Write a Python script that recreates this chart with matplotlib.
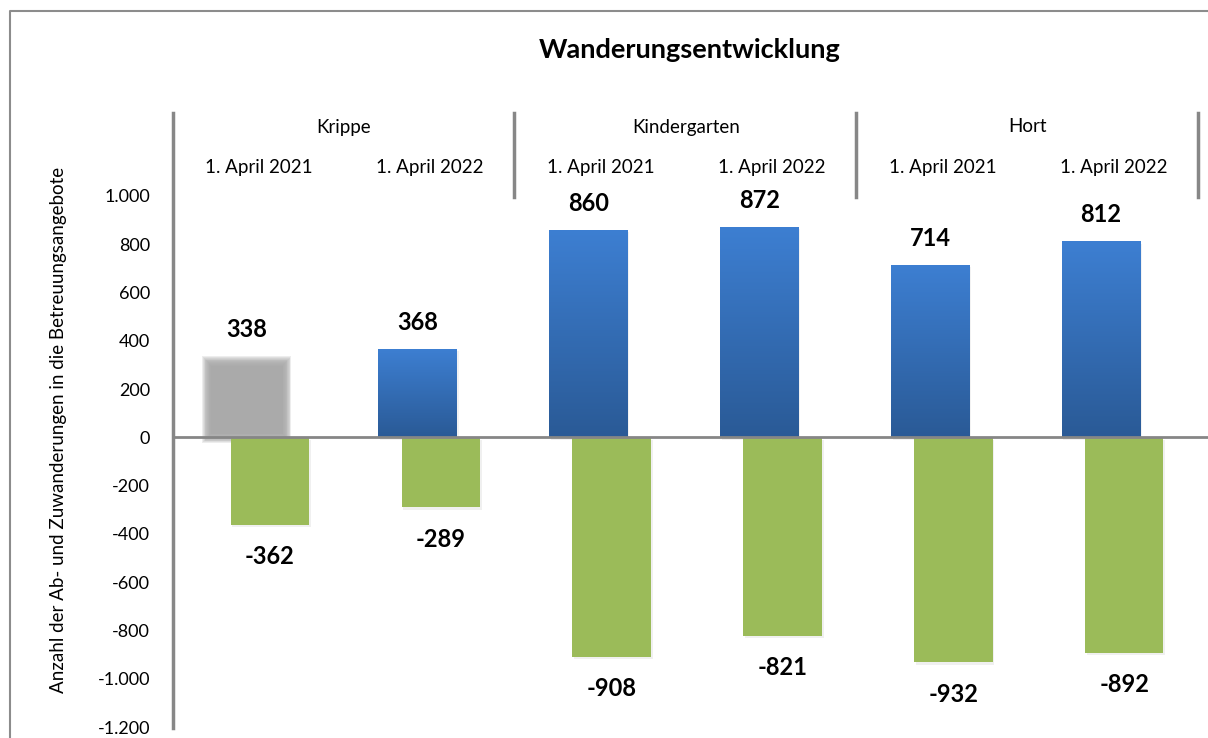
import matplotlib.pyplot as plt
import numpy as np
from matplotlib.patches import Rectangle
from matplotlib.lines import Line2D
from matplotlib.colors import LinearSegmentedColormap

plt.rcParams['font.family'] = ['Lato', 'DejaVu Sans']

# data
groups = ['Krippe', 'Kindergarten', 'Hort']
dates = ['1. April 2021', '1. April 2022'] * 3
zuzug = [338, 368, 860, 872, 714, 812]
wegzug = [-362, -289, -908, -821, -932, -892]
yticks = [1000, 800, 600, 400, 200, 0, -200, -400, -600, -800, -1000, -1200]

def de_fmt(v):
    # german thousands separator
    s = '{:,}'.format(v).replace(',', '.')
    return s

W, H = 1208, 738
fig = plt.figure(figsize=(W / 100, H / 100), dpi=100)
ax = fig.add_axes([173 / W, 11 / H, (1198 - 173) / W, (727 - 196) / H])

ax.set_xlim(-0.5, 5.5)
ax.set_ylim(-1200, 1000)

bw = 0.46
off = 0.068
blue_cmap = LinearSegmentedColormap.from_list('bl', ['#2a5a96', '#3d7fd2'])
grad = np.linspace(0, 1, 256).reshape(-1, 1)

x = np.arange(len(zuzug))
for i in x:
    # positive bars (blue gradient, first one grey and blurred)
    xl = i - off - bw / 2
    v = zuzug[i]
    if i == 0:
        # soft edges: stack of shrinking translucent rectangles
        for k in np.linspace(0.03, -0.02, 12):
            ky = k * 800
            ax.add_patch(Rectangle((xl - k, -ky), bw + 2 * k, v - 25 + 2 * ky,
                                   color='#a6a6a6', alpha=0.2, lw=0, zorder=2))
    else:
        ax.add_patch(Rectangle((xl + 0.01, -10), bw, v, color='#000000', alpha=0.05,
                               lw=0, zorder=1))
        im = ax.imshow(grad, extent=[xl, xl + bw, 0, v], origin='lower',
                       cmap=blue_cmap, aspect='auto', zorder=2)
        clip = Rectangle((xl, 0), bw, v, transform=ax.transData, fc='none', lw=0)
        ax.add_patch(clip)
        im.set_clip_path(clip)
    ax.annotate(str(v), (i - off, v), xytext=(0, 19), textcoords='offset points',
                ha='center', va='center', fontsize=17, fontweight='bold', zorder=5)

    # negative bars (green)
    xl2 = i + off - bw / 2
    w = wegzug[i]
    ax.add_patch(Rectangle((xl2 + 0.01, w - 10), bw, -w, color='#000000', alpha=0.06,
                           lw=0, zorder=1))
    ax.bar(i + off, w, width=bw, color='#9bbb59', zorder=3)
    ax.annotate(str(w), (i + off, w), xytext=(0, -23), textcoords='offset points',
                ha='center', va='center', fontsize=17, fontweight='bold', zorder=5)

ax.axhline(0, xmin=0, xmax=1.01, color='#868686', lw=2, zorder=4, clip_on=False)

for s in ['top', 'right', 'bottom', 'left']:
    ax.spines[s].set_visible(False)
ax.set_xticks([])
ax.set_yticks(yticks)
ax.set_yticklabels([de_fmt(t) for t in yticks], fontsize=13)
ax.tick_params(axis='y', length=0, pad=16.5)

ax.set_ylabel('Anzahl der Ab- und Zuwanderungen in die Betreuungsangebote',
              fontsize=13.5)
ax.yaxis.set_label_coords(-0.103, 0.56)

# header with groups and dates
for j, g in enumerate(groups):
    xc = (173 + 171 * (2 * j + 1)) / W
    fig.text(xc, 1 - 127 / H, g, ha='center', va='center', fontsize=13.5)
for i, d in enumerate(dates):
    xc = (173 + 171 * i + 85.5) / W
    fig.text(xc, 1 - 167 / H, d, ha='center', va='center', fontsize=13.5)

gray = '#878787'
fig.add_artist(Line2D([173 / W, 173 / W], [1 - 113 / H, 1 - 728 / H], color=gray, lw=2.5))
for xs in [514, 856, 1198]:
    fig.add_artist(Line2D([xs / W, xs / W], [1 - 113 / H, 1 - 197 / H], color=gray, lw=2.5))

# outer chart border
fig.add_artist(Line2D([10 / W, 10 / W, 1.0], [0.0, 1 - 11 / H, 1 - 11 / H], color='#8c8c8c', lw=1.5))

fig.text(690 / W, 1 - 50 / H, 'Wanderungsentwicklung', ha='center', va='center',
         fontsize=19.5, fontweight='bold')

fig.savefig('out.png', dpi=100)
